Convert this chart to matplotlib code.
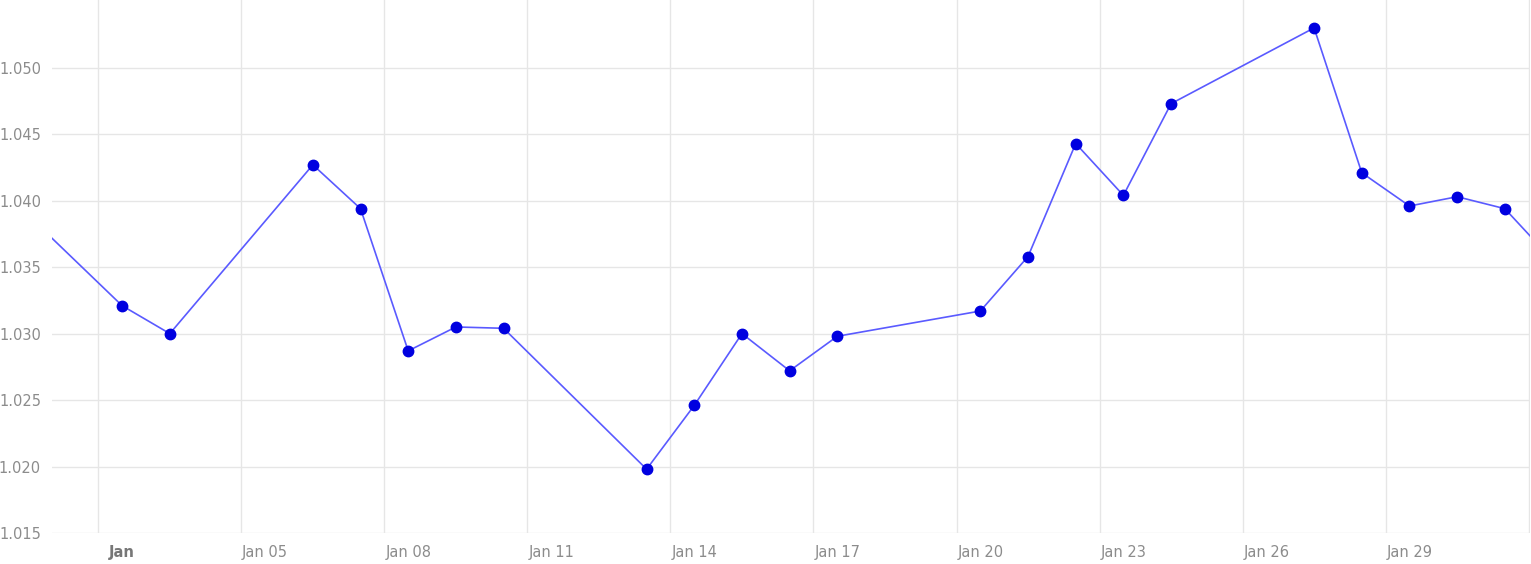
import numpy as np
import pandas as pd
import matplotlib
matplotlib.use("Agg")
import matplotlib.pyplot as plt
import matplotlib.dates as mdates

# daily values (business days); first and last points sit just outside the view
dates = pd.to_datetime([
    "2024-12-31", "2025-01-02", "2025-01-03", "2025-01-06", "2025-01-07",
    "2025-01-08", "2025-01-09", "2025-01-10", "2025-01-13", "2025-01-14",
    "2025-01-15", "2025-01-16", "2025-01-17", "2025-01-20", "2025-01-21",
    "2025-01-22", "2025-01-23", "2025-01-24", "2025-01-27", "2025-01-28",
    "2025-01-29", "2025-01-30", "2025-01-31", "2025-02-03",
])
values = [
    1.0390, 1.0321, 1.0300, 1.0427, 1.0394,
    1.0287, 1.0305, 1.0304, 1.0198, 1.0246,
    1.0300, 1.0272, 1.0298, 1.0317, 1.0358,
    1.0443, 1.0404, 1.0473, 1.0530, 1.0421,
    1.0396, 1.0403, 1.0394, 1.0278,
]

tick_dates = pd.date_range("2025-01-02", "2025-01-29", freq="3D")
tick_labels = ["Jan"] + [d.strftime("%b %d") for d in tick_dates[1:]]
y_ticks = [1.015, 1.020, 1.025, 1.030, 1.035, 1.040, 1.045, 1.050]

fig = plt.figure(figsize=(15.31, 5.64), dpi=100)
ax = fig.add_axes([0.034, 0.055, 0.9654, 0.945])

x = mdates.date2num(dates)
ax.plot(x, values, color="#5a5aff", linewidth=1.2, zorder=3)
ax.plot(x[1:-1], values[1:-1], "o", color="#0000e0", markersize=7.5, zorder=4)

# grid lines sit half a day before each labelled date
grid_x = mdates.date2num(pd.date_range("2025-01-02", "2025-02-01", freq="3D")) - 0.5
ax.set_xticks(mdates.date2num(tick_dates))
ax.set_xticklabels(tick_labels)
for gx in grid_x:
    ax.axvline(gx, color="#e6e6e6", linewidth=1.0, zorder=1)
for gy in y_ticks:
    ax.axhline(gy, color="#e6e6e6", linewidth=1.0, zorder=1)

ax.set_xlim(mdates.date2num(pd.Timestamp("2024-12-31")) + 0.53,
            mdates.date2num(pd.Timestamp("2025-01-31")) + 0.53)
ax.set_ylim(1.015, 1.0551)
ax.set_yticks(y_ticks)
ax.set_yticklabels([f"{v:.3f}" for v in y_ticks])

ax.tick_params(axis="both", which="both", length=0, colors="#8c8c8c", labelsize=10.5)
ax.tick_params(axis="x", pad=9)
ax.tick_params(axis="y", pad=8)
ax.get_xticklabels()[0].set_fontweight("bold")
ax.get_xticklabels()[0].set_color("#777777")
for s in ax.spines.values():
    s.set_visible(False)

fig.savefig("out.png", dpi=100)
